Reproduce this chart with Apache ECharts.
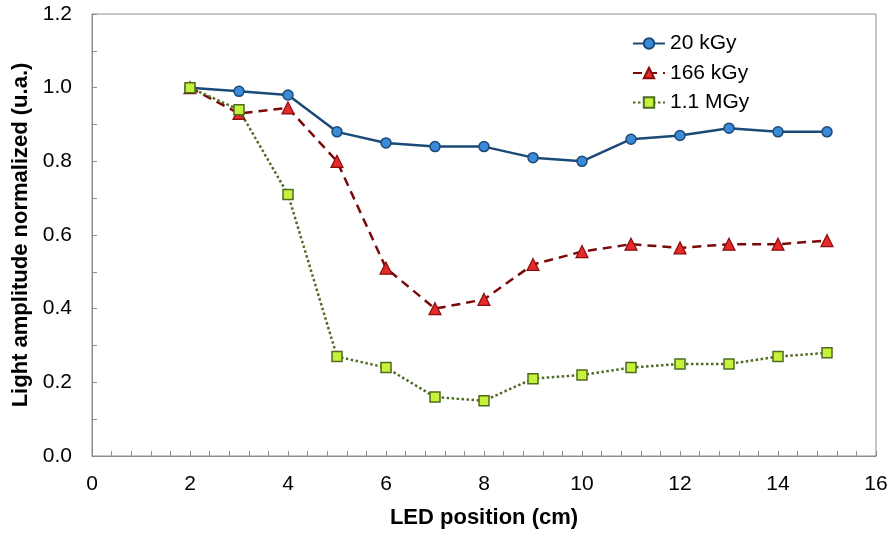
<!DOCTYPE html>
<html>
<head>
<meta charset="utf-8">
<script src="https://cdn.jsdelivr.net/npm/echarts@6/dist/echarts.min.js"></script>
<style>html,body{margin:0;padding:0;background:#fff;}#c{width:892px;height:535px;}</style>
</head>
<body>
<div id="c"></div>
<script>
var positions = [2, 3, 4, 5, 6, 7, 8, 9, 10, 11, 12, 13, 14, 15];
var kGy20 = [1.00, 0.99, 0.98, 0.88, 0.85, 0.84, 0.84, 0.81, 0.80, 0.86, 0.87, 0.89, 0.88, 0.88];
var kGy166 = [1.00, 0.93, 0.945, 0.80, 0.51, 0.40, 0.425, 0.52, 0.555, 0.575, 0.565, 0.575, 0.575, 0.585];
var MGy11 = [1.00, 0.94, 0.71, 0.27, 0.24, 0.16, 0.15, 0.21, 0.22, 0.24, 0.25, 0.25, 0.27, 0.28];
var seriesNames = ['20 kGy', '166 kGy', '1.1 MGy'];

function pairs(ys) { return positions.map(function (x, i) { return [x, ys[i]]; }); }

var font = 'Liberation Sans, Arial, sans-serif';
var axisGray = '#8c8c8c';
var chart = echarts.init(document.getElementById('c'), null, { renderer: 'canvas' });
chart.setOption({
  animation: false,
  backgroundColor: '#fff',
  grid: { left: 92, right: 16, top: 14, bottom: 79, show: true, borderColor: axisGray, borderWidth: 1 },
  legend: {
    orient: 'vertical', left: 627, top: 28, itemGap: 8.5, itemWidth: 32, itemHeight: 13,
    textStyle: { fontFamily: font, fontSize: 21, color: '#000', lineHeight: 21 },
    data: seriesNames
  },
  xAxis: {
    type: 'value', min: 0, max: 16, interval: 2,
    name: 'LED position (cm)', nameLocation: 'middle', nameGap: 51,
    nameTextStyle: { fontFamily: font, fontSize: 22, fontWeight: 'bold', color: '#000' },
    axisLine: { show: true, lineStyle: { color: axisGray } },
    axisTick: { show: true, inside: true, length: 5, lineStyle: { color: axisGray } },
    minorTick: { show: true, splitNumber: 5, length: 5, lineStyle: { color: axisGray } },
    axisLabel: { fontFamily: font, fontSize: 21, color: '#000', margin: 18 },
    splitLine: { show: false }
  },
  yAxis: {
    type: 'value', min: 0, max: 1.2, interval: 0.2,
    name: 'Light amplitude normalized (u.a.)', nameLocation: 'middle', nameGap: 60,
    nameTextStyle: { fontFamily: font, fontSize: 22, fontWeight: 'bold', color: '#000' },
    axisLine: { show: true, lineStyle: { color: axisGray } },
    axisTick: { show: true, inside: true, length: 5, lineStyle: { color: axisGray } },
    minorTick: { show: true, splitNumber: 2, length: 5, lineStyle: { color: axisGray } },
    axisLabel: { fontFamily: font, fontSize: 21, color: '#000', margin: 20,
      formatter: function (v) { return v.toFixed(1); } },
    splitLine: { show: false }
  },
  series: [
    {
      name: seriesNames[0], type: 'line', data: pairs(kGy20),
      symbol: 'circle', symbolSize: 10,
      lineStyle: { color: '#1b4a78', width: 2.5, type: 'solid' },
      itemStyle: { color: '#3b8ad8', borderColor: '#1b4a78', borderWidth: 1.5 },
      z: 4
    },
    {
      name: seriesNames[1], type: 'line', data: pairs(kGy166),
      symbol: 'triangle', symbolSize: 12,
      lineStyle: { color: '#7a0a0a', width: 2.5, type: [9, 6] },
      itemStyle: { color: '#e52a2a', borderColor: '#8a0c0c', borderWidth: 1.2 },
      z: 3
    },
    {
      name: seriesNames[2], type: 'line', data: pairs(MGy11),
      symbol: 'rect', symbolSize: 10,
      lineStyle: { color: '#4f6b1f', width: 2.5, type: [2.5, 2.5] },
      itemStyle: { color: '#c6f23a', borderColor: '#4f6b1f', borderWidth: 1.5 },
      z: 5
    }
  ]
});
</script>
</body>
</html>
